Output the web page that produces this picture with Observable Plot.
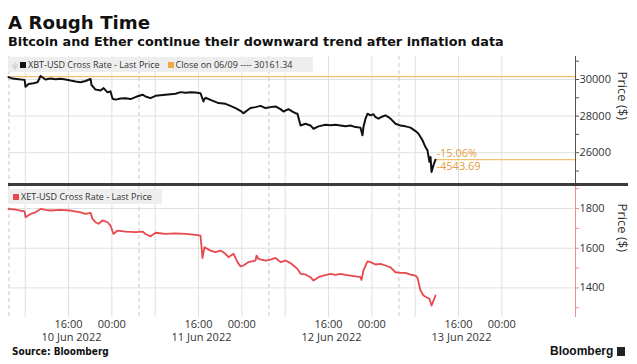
<!DOCTYPE html>
<html><head><meta charset="utf-8">
<script src="https://cdn.jsdelivr.net/npm/d3@7"></script>
<script src="https://cdn.jsdelivr.net/npm/@observablehq/plot@0.6"></script>
<style>
body{margin:0;background:#fff;}
#wrap{position:relative;width:637px;height:364px;overflow:hidden;font-family:"Open Sans",sans-serif;color:#333;}
#wrap > *{position:absolute;}
#title{left:8px;top:14px;font:bold 18.2px/1 "DejaVu Sans",sans-serif;color:#111;white-space:nowrap;}
#subtitle{left:8px;top:36px;font:bold 12.8px/1 "DejaVu Sans",sans-serif;color:#111;white-space:nowrap;}
.legend{height:15px;background:#eeeeee;font:9px/15px "Open Sans",sans-serif;color:#333;white-space:nowrap;}
.sq{display:inline-block;width:6px;height:6px;vertical-align:0px;margin-right:2px;}
#sep{left:8px;top:183px;width:620px;height:3px;background:#3c3c3c;}
#source{left:12px;top:347px;font:bold 10px/1 "DejaVu Sans Condensed","DejaVu Sans",sans-serif;color:#111;}
#logo{left:550px;top:345px;font:bold 12px/1 "Liberation Sans",Arial,sans-serif;color:#111;white-space:nowrap;}
#logo span{display:inline-block;width:8px;height:9px;background:#222;margin-left:4px;vertical-align:-1px;}
</style></head>
<body>
<div id="wrap">
  <div id="title">A Rough Time</div>
  <div id="subtitle">Bitcoin and Ether continue their downward trend after inflation data</div>
  <div id="topPanel"></div>
  <div id="bottomPanel"></div>
  <div id="sep"></div>
  <div class="legend" id="leg1" style="left:8px;top:57px;width:305px;"></div>
  <div class="legend" id="leg2" style="left:8px;top:189px;width:154px;"></div>
  <div id="source">Source: Bloomberg</div>
  <div id="logo">Bloomberg<span></span></div>
</div>
<script>
// ---- data ----
const btcName = "XBT-USD Cross Rate - Last Price";
const ethName = "XET-USD Cross Rate - Last Price";
const closeLabel = "Close on 06/09 ---- 30161.34";
const btcClose = 30161.34;

const btcTimes = ["2022-06-10 04:55","2022-06-10 05:40","2022-06-10 06:46","2022-06-10 07:53","2022-06-10 08:04","2022-06-10 08:37","2022-06-10 09:32","2022-06-10 10:17","2022-06-10 10:50","2022-06-10 11:45","2022-06-10 12:40","2022-06-10 13:36","2022-06-10 14:31","2022-06-10 15:27","2022-06-10 16:22","2022-06-10 17:18","2022-06-10 18:13","2022-06-10 19:08","2022-06-10 20:04","2022-06-10 20:15","2022-06-10 20:59","2022-06-10 21:54","2022-06-10 22:28","2022-06-10 23:12","2022-06-10 23:45","2022-06-11 00:08","2022-06-11 00:41","2022-06-11 01:36","2022-06-11 02:31","2022-06-11 03:27","2022-06-11 04:22","2022-06-11 05:40","2022-06-11 06:13","2022-06-11 07:08","2022-06-11 08:04","2022-06-11 09:54","2022-06-11 11:45","2022-06-11 12:41","2022-06-11 13:36","2022-06-11 14:31","2022-06-11 15:27","2022-06-11 16:22","2022-06-11 16:55","2022-06-11 17:00","2022-06-11 17:17","2022-06-11 18:13","2022-06-11 19:41","2022-06-11 20:59","2022-06-11 21:54","2022-06-11 22:50","2022-06-11 23:45","2022-06-12 00:18","2022-06-12 01:36","2022-06-12 02:31","2022-06-12 03:27","2022-06-12 04:22","2022-06-12 05:17","2022-06-12 06:13","2022-06-12 07:08","2022-06-12 07:41","2022-06-12 08:37","2022-06-12 09:21","2022-06-12 09:54","2022-06-12 10:16","2022-06-12 10:50","2022-06-12 11:45","2022-06-12 12:40","2022-06-12 13:14","2022-06-12 14:09","2022-06-12 15:27","2022-06-12 16:22","2022-06-12 17:17","2022-06-12 18:13","2022-06-12 19:08","2022-06-12 20:04","2022-06-12 20:59","2022-06-12 21:54","2022-06-12 22:16","2022-06-12 22:27","2022-06-12 22:50","2022-06-12 23:12","2022-06-12 23:45","2022-06-13 00:18","2022-06-13 00:40","2022-06-13 01:14","2022-06-13 01:58","2022-06-13 02:31","2022-06-13 03:04","2022-06-13 03:27","2022-06-13 04:22","2022-06-13 05:17","2022-06-13 06:13","2022-06-13 07:08","2022-06-13 08:04","2022-06-13 08:37","2022-06-13 08:59","2022-06-13 09:21","2022-06-13 09:54","2022-06-13 10:16","2022-06-13 10:38","2022-06-13 10:50","2022-06-13 11:01","2022-06-13 11:23","2022-06-13 11:45"];
const btcPrices = [30130,30050,30020,29980,29600,29750,29800,29850,30190,30000,30060,30020,30040,30000,29940,29890,29850,29920,30030,29700,29450,29400,29530,29300,29350,28950,28900,28960,28980,28930,29040,29170,29070,28980,29110,29170,29220,29310,29280,29300,29290,29250,28800,28890,29000,28890,28710,28670,28560,28440,28290,28160,28440,28490,28560,28440,28490,28530,28380,28250,28380,28250,28160,28130,27490,27580,27490,27310,27440,27530,27500,27530,27490,27440,27490,27400,27370,26950,27400,27860,28130,28040,28100,27950,27860,27980,28040,27950,27860,27580,27490,27440,27370,27180,27040,26860,26680,26310,26130,25500,25770,24950,25320,25617.65];

const ethTimes = ["2022-06-10 04:55","2022-06-10 06:13","2022-06-10 07:08","2022-06-10 07:53","2022-06-10 08:04","2022-06-10 08:59","2022-06-10 09:54","2022-06-10 10:50","2022-06-10 11:45","2022-06-10 12:40","2022-06-10 14:31","2022-06-10 16:22","2022-06-10 18:13","2022-06-10 19:08","2022-06-10 20:04","2022-06-10 20:26","2022-06-10 20:59","2022-06-10 21:32","2022-06-10 22:16","2022-06-10 23:12","2022-06-10 23:45","2022-06-11 00:18","2022-06-11 01:03","2022-06-11 02:31","2022-06-11 04:22","2022-06-11 05:40","2022-06-11 06:13","2022-06-11 07:08","2022-06-11 08:04","2022-06-11 09:54","2022-06-11 11:45","2022-06-11 13:36","2022-06-11 15:27","2022-06-11 16:22","2022-06-11 16:44","2022-06-11 17:06","2022-06-11 18:13","2022-06-11 19:08","2022-06-11 20:04","2022-06-11 20:59","2022-06-11 21:32","2022-06-11 22:28","2022-06-11 23:12","2022-06-11 23:45","2022-06-12 00:18","2022-06-12 01:14","2022-06-12 02:31","2022-06-12 02:42","2022-06-12 03:04","2022-06-12 04:22","2022-06-12 05:17","2022-06-12 06:13","2022-06-12 07:08","2022-06-12 08:04","2022-06-12 08:59","2022-06-12 09:32","2022-06-12 10:16","2022-06-12 10:50","2022-06-12 11:45","2022-06-12 12:40","2022-06-12 13:14","2022-06-12 14:09","2022-06-12 15:05","2022-06-12 16:22","2022-06-12 17:17","2022-06-12 18:13","2022-06-12 19:08","2022-06-12 20:04","2022-06-12 20:59","2022-06-12 21:54","2022-06-12 22:05","2022-06-12 22:27","2022-06-12 23:12","2022-06-12 23:45","2022-06-13 00:40","2022-06-13 01:36","2022-06-13 02:31","2022-06-13 03:27","2022-06-13 04:22","2022-06-13 05:17","2022-06-13 06:13","2022-06-13 07:08","2022-06-13 08:04","2022-06-13 08:26","2022-06-13 08:37","2022-06-13 08:59","2022-06-13 09:32","2022-06-13 10:05","2022-06-13 10:38","2022-06-13 11:01","2022-06-13 11:23","2022-06-13 11:45"];
const ethPrices = [1798,1795,1790,1786,1756,1773,1781,1798,1793,1790,1793,1790,1781,1773,1778,1748,1731,1723,1740,1731,1714,1672,1689,1684,1681,1684,1672,1660,1678,1672,1675,1672,1667,1664,1550,1605,1588,1580,1588,1572,1555,1572,1530,1508,1513,1530,1538,1563,1546,1538,1543,1551,1530,1538,1525,1513,1496,1471,1468,1454,1437,1454,1462,1471,1466,1471,1466,1462,1458,1454,1440,1488,1534,1530,1518,1521,1513,1504,1479,1476,1476,1467,1462,1451,1429,1387,1362,1353,1345,1311,1336,1362];

const xStart = "2022-06-10 04:55", xEnd = "2022-06-14 13:36";
const xTickTimes = ["2022-06-10 16:00","2022-06-11 00:00","2022-06-11 16:00","2022-06-12 00:00","2022-06-12 16:00","2022-06-13 00:00","2022-06-13 16:00","2022-06-14 00:00"];
const xDateTimes = ["2022-06-10 16:00","2022-06-11 16:00","2022-06-12 16:00","2022-06-13 16:00"];
const gridTimes = ["2022-06-10 08:00","2022-06-10 16:00","2022-06-11 00:00","2022-06-11 08:00","2022-06-11 16:00","2022-06-12 00:00","2022-06-12 08:00","2022-06-12 16:00","2022-06-13 00:00","2022-06-13 08:00","2022-06-13 16:00","2022-06-14 00:00"];
const dayStartTimes = ["2022-06-10 05:00","2022-06-11 05:00","2022-06-12 05:00","2022-06-13 05:00"];
const btcTicks = [30000, 28000, 26000];
const btcMinorTicks = [31000, 29000, 27000, 25000];
const ethTicks = [1800, 1600, 1400];
const ethMinorTicks = [1900, 1700, 1500, 1300];
const yLabel = "Price ($)";

// ---- build ----
const parse = d3.utcParse("%Y-%m-%d %H:%M");
const btc = btcTimes.map((t, i) => ({date: parse(t), price: btcPrices[i]}));
const eth = ethTimes.map((t, i) => ({date: parse(t), price: ethPrices[i]}));
const xDomain = [parse(xStart), parse(xEnd)];
const lastPt = btc[btc.length - 1];
const diff = lastPt.price - btcClose;
const f2 = d3.formatLocale({decimal: ".", thousands: "", grouping: [3], currency: ["$", ""], minus: "-"}).format(".2f");
const changeLabels = [f2(diff / btcClose * 100) + "%", f2(diff)];

const ORANGE = "#eeaa44", RED = "#e8494e", GRID = "#e0e0e0", DASH = "#c8c8c8";
const plotStyle = {fontFamily: "Open Sans, sans-serif", fontSize: "11px", color: "#333", background: "transparent", overflow: "visible"};

const common = (ticks, minor, axisColor) => [
  Plot.ruleY(ticks, {stroke: GRID}),
  Plot.ruleX(gridTimes.map(parse), {stroke: GRID}),
  Plot.ruleX(dayStartTimes.map(parse), {stroke: DASH, strokeDasharray: "4,3"}),
  Plot.ruleX([xDomain[1]], {stroke: axisColor}),
  Plot.axisY({anchor: "right", label: null, ticks, tickSize: 3, tickPadding: 1, tickFormat: d => String(d), stroke: axisColor, fill: "#333", fontSize: 11}),
  Plot.axisY({anchor: "right", label: null, ticks: minor, tickSize: 3, tickFormat: () => "", stroke: axisColor}),
  Plot.text([yLabel], {frameAnchor: "right", dx: 47, rotate: 90, fontSize: 13, fill: "#333"})
];

const topChart = Plot.plot({
  width: 637, height: 135, marginLeft: 8, marginRight: 62, marginTop: 6, marginBottom: 2,
  x: {type: "utc", domain: xDomain, axis: null},
  y: {domain: [24317, 31257], axis: null},
  style: plotStyle,
  marks: [
    ...common(btcTicks, btcMinorTicks, "#555"),
    Plot.ruleY([btcClose], {stroke: ORANGE, strokeWidth: 1.2, strokeOpacity: 0.75}),
    Plot.ruleY([lastPt.price], {x1: lastPt.date, x2: xDomain[1], stroke: ORANGE, strokeWidth: 1.2, strokeOpacity: 0.75}),
    Plot.line(btc, {x: "date", y: "price", stroke: "#111", strokeWidth: 2}),
    Plot.text([changeLabels[0]], {x: lastPt.date, y: lastPt.price, dx: 1, dy: -6, textAnchor: "start", fill: "#e0a040", fontSize: 11}),
    Plot.text([changeLabels[1]], {x: lastPt.date, y: lastPt.price, dx: 1, dy: 7, textAnchor: "start", fill: "#e0a040", fontSize: 11})
  ]
});
topChart.style.position = "absolute"; topChart.style.left = "0px"; topChart.style.top = "50px";
document.getElementById("topPanel").replaceWith(topChart);

const bottomChart = Plot.plot({
  width: 637, height: 160, marginLeft: 8, marginRight: 62, marginTop: 1, marginBottom: 28,
  x: {type: "utc", domain: xDomain, axis: null},
  y: {domain: [1251, 1911], axis: null},
  style: plotStyle,
  marks: [
    ...common(ethTicks, ethMinorTicks, "#ee8f8f"),
    Plot.line(eth, {x: "date", y: "price", stroke: RED, strokeWidth: 1.8}),
    Plot.axisX({label: null, ticks: xTickTimes.map(parse), tickSize: 0, tickPadding: 3, tickFormat: d3.utcFormat("%H:%M"), fontSize: 11, fill: "#333"}),
    Plot.axisX({label: null, ticks: xDateTimes.map(parse), tickSize: 0, tickPadding: 16, dx: 3, tickFormat: d3.utcFormat("%-d %b %Y"), fontSize: 11, fill: "#333"})
  ]
});
bottomChart.style.position = "absolute"; bottomChart.style.left = "0px"; bottomChart.style.top = "185px";
document.getElementById("bottomPanel").replaceWith(bottomChart);

// legends
document.getElementById("leg1").innerHTML = `<span style="color:#bbb;margin-left:4px;margin-right:2px;font-size:8px">&#968;</span><span class="sq" style="background:#111"></span>${btcName}<span class="sq" style="background:${ORANGE};margin-left:8px"></span>${closeLabel}`;
document.getElementById("leg2").innerHTML = `<span class="sq" style="background:${RED};margin-left:5px"></span>${ethName}`;
</script>
</body></html>
